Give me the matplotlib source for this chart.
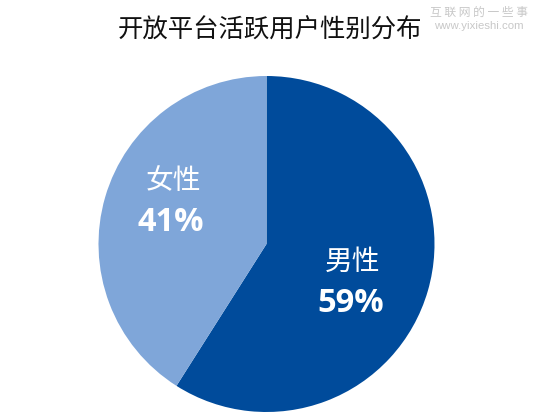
import matplotlib
matplotlib.use("Agg")
import matplotlib.pyplot as plt

plt.rcParams['font.family'] = ['Noto Sans CJK SC', 'DejaVu Sans']

# données
categories = ['男性', '女性']
values = [59, 41]
colors = ['#004B9B', '#7FA6D9']
title = '开放平台活跃用户性别分布'

W, H = 533, 417
fig = plt.figure(figsize=(W / 100, H / 100), dpi=100)
ax = fig.add_axes([0, 0, 1, 1])

# camembert : départ à 12h, sens horaire
ax.pie(values, colors=colors, startangle=90, counterclock=False,
       center=(266.5, H - 244), radius=168, frame=False,
       wedgeprops={'linewidth': 0})
ax.set_xlim(0, W)
ax.set_ylim(0, H)
ax.set_aspect('equal')
ax.axis('off')

ax.text(270, H - 31, title, fontsize=18.3, ha='center', va='center', color='#111111')

# étiquettes
ax.text(352.5, H - 262, categories[0], fontsize=20, ha='center', va='center', color='white')
ax.text(351, H - 303, f'{values[0]}%', fontsize=23.5, fontweight='bold', family='Open Sans',
        ha='center', va='center', color='white')
ax.text(173.5, H - 181, categories[1], fontsize=20, ha='center', va='center', color='white')
ax.text(171, H - 222, f'{values[1]}%', fontsize=23.5, fontweight='bold', family='Open Sans',
        ha='center', va='center', color='white')

# filigrane
ax.text(479, H - 12, ' '.join('互联网的一些事'), fontsize=8.5, ha='center', va='center', color='#C8C8C8')
ax.text(479, H - 26, 'www.yixieshi.com', fontsize=8.2, family='Liberation Sans',
        ha='center', va='center', color='#C8C8C8')

fig.savefig('out.png', dpi=100)
